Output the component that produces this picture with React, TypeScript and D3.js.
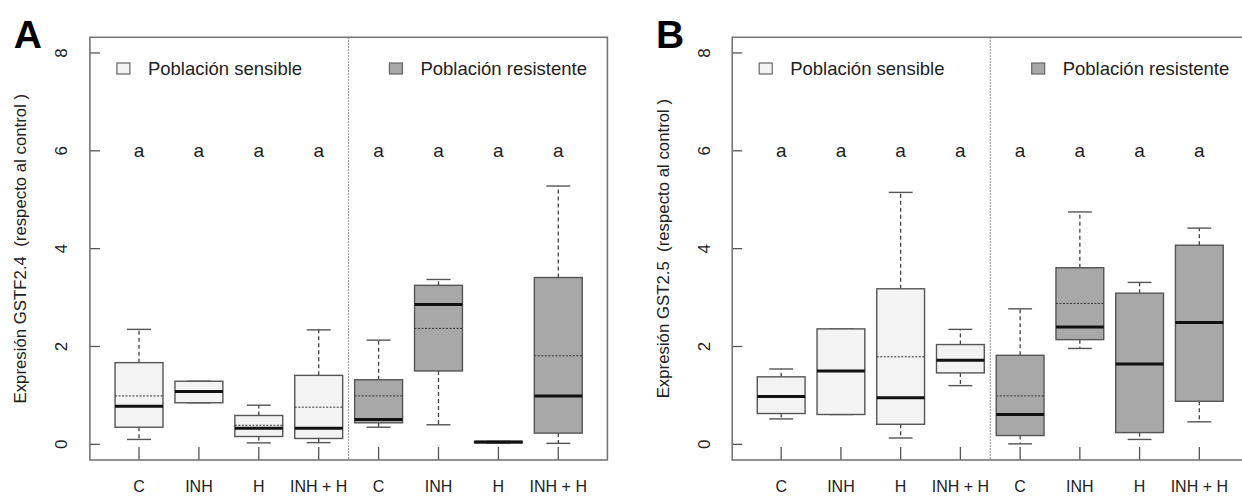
import React from "react";
import * as d3 from "d3";

const categories = ["C", "INH", "H", "INH + H", "C", "INH", "H", "INH + H"];
const groups = ["sensible", "sensible", "sensible", "sensible", "resistente", "resistente", "resistente", "resistente"];
const letters = ["a", "a", "a", "a", "a", "a", "a", "a"];
const yTicks = [0, 2, 4, 6, 8];
const legendLabels = ["Población sensible", "Población resistente"];

// Panel A: GSTF2.4
const aLow = [0.10, 0.85, 0.03, 0.035, 0.35, 0.40, 0.025, 0.02];
const aQ1 = [0.35, 0.85, 0.16, 0.12, 0.44, 1.50, 0.03, 0.23];
const aMed = [0.78, 1.08, 0.33, 0.33, 0.51, 2.86, 0.05, 0.99];
const aQ3 = [1.67, 1.29, 0.59, 1.41, 1.32, 3.25, 0.06, 3.41];
const aHigh = [2.35, 1.29, 0.80, 2.34, 2.13, 3.37, 0.06, 5.28];
const aMean = [0.99, 1.08, 0.39, 0.76, 0.99, 2.37, 0.05, 1.81];

// Panel B: GST2.5
const bLow = [0.52, 0.61, 0.13, 1.20, 0.01, 1.96, 0.10, 0.46];
const bQ1 = [0.63, 0.61, 0.41, 1.46, 0.18, 2.14, 0.24, 0.88];
const bMed = [0.98, 1.50, 0.95, 1.72, 0.61, 2.40, 1.64, 2.49];
const bQ3 = [1.38, 2.36, 3.18, 2.04, 1.82, 3.61, 3.09, 4.07];
const bHigh = [1.54, 2.36, 5.15, 2.35, 2.77, 4.75, 3.31, 4.42];
const bMean = [0.99, 1.50, 1.79, 1.72, 0.99, 2.88, 1.65, 2.50];

const FONT = "'Liberation Sans', Arial, Helvetica, sans-serif";
const TXT = "#222";
const FILL: Record<string, string> = { sensible: "#f3f3f3", resistente: "#a8a8a8" };

type PanelProps = {
  letter: string;
  title: string;
  left: number;
  right: number;
  low: number[];
  q1: number[];
  med: number[];
  q3: number[];
  high: number[];
  mean: number[];
};

function Panel({ letter, title, left, right, low, q1, med, q3, high, mean }: PanelProps) {
  const top = 37.3;
  const bottom = 460;
  const x = d3.scaleLinear().domain([0.18, 8.82]).range([left, right]);
  const y = d3.scaleLinear().domain([-0.32, 8.32]).range([bottom, top]);
  const unit = x(2) - x(1);
  const bw = unit * 0.8;
  const sw = unit * 0.4;
  const midY = (top + bottom) / 2;

  return (
    <g>
      <text x={left - 62} y={34} fontFamily={FONT} fontWeight="bold" fontSize={39} fill="#000" textAnchor="middle" dominantBaseline="central">
        {letter}
      </text>
      {/* y axis title */}
      <text
        transform={`translate(${left - 69},${midY}) rotate(-90)`}
        fontFamily={FONT}
        fontSize={16.8}
        fill={TXT}
        textAnchor="middle"
        dominantBaseline="central"
        style={{ whiteSpace: "pre" }}
      >
        {title}
      </text>
      {/* y ticks */}
      {yTicks.map((t) => (
        <g key={"yt" + t}>
          <line x1={left} x2={left + 10} y1={y(t)} y2={y(t)} stroke="#555" strokeWidth={1.3} />
          <text
            transform={`translate(${left - 28},${y(t)}) rotate(-90)`}
            fontFamily={FONT}
            fontSize={17}
            fill={TXT}
            textAnchor="middle"
            dominantBaseline="central"
          >
            {t}
          </text>
        </g>
      ))}
      {/* x ticks and labels */}
      {categories.map((c, i) => (
        <g key={"xt" + i}>
          <line x1={x(i + 1)} x2={x(i + 1)} y1={bottom} y2={bottom - 13} stroke="#555" strokeWidth={1.3} />
          <text x={x(i + 1)} y={492} fontFamily={FONT} fontSize={16} fill={TXT} textAnchor="middle">
            {c}
          </text>
          <text x={x(i + 1)} y={y(6)} fontFamily={FONT} fontSize={19} fill={TXT} textAnchor="middle" dominantBaseline="central">
            {letters[i]}
          </text>
        </g>
      ))}
      {/* separator */}
      <line x1={x(4.5)} x2={x(4.5)} y1={top} y2={bottom} stroke="#777" strokeWidth={1} strokeDasharray="1.5,1.5" />
      {/* boxes */}
      {categories.map((c, i) => {
        const cx = x(i + 1);
        return (
          <g key={"bx" + i}>
            <line x1={cx} x2={cx} y1={y(q3[i])} y2={y(high[i])} stroke="#444" strokeWidth={1.3} strokeDasharray="4,3" />
            <line x1={cx} x2={cx} y1={y(q1[i])} y2={y(low[i])} stroke="#444" strokeWidth={1.3} strokeDasharray="4,3" />
            <line x1={cx - sw / 2} x2={cx + sw / 2} y1={y(high[i])} y2={y(high[i])} stroke="#555" strokeWidth={1.4} />
            <line x1={cx - sw / 2} x2={cx + sw / 2} y1={y(low[i])} y2={y(low[i])} stroke="#555" strokeWidth={1.4} />
            <rect
              x={cx - bw / 2}
              y={y(q3[i])}
              width={bw}
              height={Math.max(0.5, y(q1[i]) - y(q3[i]))}
              fill={FILL[groups[i]]}
              stroke="#555"
              strokeWidth={1.4}
            />
            <line x1={cx - bw / 2} x2={cx + bw / 2} y1={y(mean[i])} y2={y(mean[i])} stroke="#333" strokeWidth={1} strokeDasharray="2,1.5" />
            <line x1={cx - bw / 2} x2={cx + bw / 2} y1={y(med[i])} y2={y(med[i])} stroke="#111" strokeWidth={3} />
          </g>
        );
      })}
      {/* legend */}
      {legendLabels.map((l, k) => {
        const lx = left + (k === 0 ? 27 : 299.5);
        return (
          <g key={"lg" + k}>
            <rect x={lx} y={63} width={13} height={11} fill={k === 0 ? FILL.sensible : FILL.resistente} stroke="#666" strokeWidth={1.2} />
            <text x={lx + 31} y={68.5} fontFamily={FONT} fontSize={18.5} fill={TXT} dominantBaseline="central">
              {l}
            </text>
          </g>
        );
      })}
      {/* plot frame */}
      <rect x={left} y={top} width={right - left} height={bottom - top} fill="none" stroke="#777" strokeWidth={1.6} />
    </g>
  );
}

export default function App() {
  return (
    <svg
      width={1242}
      height={496}
      style={{ position: "absolute", left: 0, top: 0, background: "#fff" }}
    >
      <rect x={0} y={0} width={1242} height={496} fill="#fff" />
      <Panel
        letter="A"
        title="Expresión GSTF2.4  (respecto al control )"
        left={89.9}
        right={607.4}
        low={aLow}
        q1={aQ1}
        med={aMed}
        q3={aQ3}
        high={aHigh}
        mean={aMean}
      />
      <Panel
        letter="B"
        title="Expresión GST2.5  (respecto al control )"
        left={732.2}
        right={1248.3}
        low={bLow}
        q1={bQ1}
        med={bMed}
        q3={bQ3}
        high={bHigh}
        mean={bMean}
      />
    </svg>
  );
}
